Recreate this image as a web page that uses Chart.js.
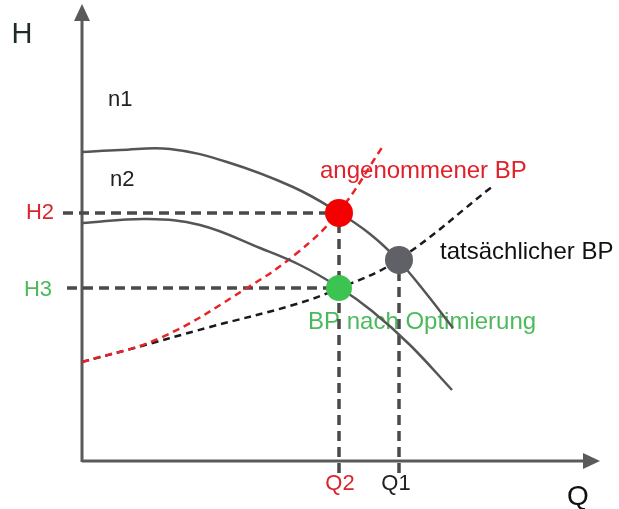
<!DOCTYPE html>
<html>
<head>
<meta charset="utf-8">
<script src="https://cdn.jsdelivr.net/npm/chart.js@4"></script>
<style>
  html, body { margin: 0; padding: 0; background: #fff; }
  #wrap { width: 619px; height: 509px; position: relative; }
</style>
</head>
<body>
<div id="wrap"><canvas id="pumpChart"></canvas></div>
<script>
// pump curves (Q, H) in arbitrary units
const qN1 = [0, 7.6, 17.6, 29, 42.2, 51.2, 57.6, 63.2, 68.6, 74.2];
const hN1 = [61.8, 62.2, 62.4, 59.8, 54.8, 49.8, 45.4, 40.2, 33.8, 26.6];

const qN2 = [0, 13, 23.6, 35.6, 43.6, 51.6, 58, 65.6, 74];
const hN2 = [47.6, 48.4, 47.2, 42.6, 39.2, 34.6, 30, 23.2, 14.2];

// system curves
const qSysAssumed = [0, 15.6, 33, 43, 51.2, 60.2];
const hSysAssumed = [19.8, 24.6, 34.6, 41.6, 49.6, 63];

const qSysReal = [0, 9, 25.6, 42.2, 51.6, 63.2, 82.2];
const hSysReal = [19.8, 22.2, 26.8, 31.2, 34.6, 40.2, 55];

// operating points
const Q2 = 51.4, Q1 = 63.4;
const H2 = 49.6, H3 = 34.6, H1 = 40.2;
const qMin = -16.4, qMax = 107.4, hMin = -9.6, hMax = 92.2;

function toPoints(qs, hs) {
    return qs.map((q, i) => ({ x: q, y: hs[i] }));
}

const font = '"Liberation Sans", Arial, sans-serif';

const decorPlugin = {
    id: 'decor',
    beforeDatasetsDraw(chart) {
        const ctx = chart.ctx;
        const x = v => chart.scales.x.getPixelForValue(v);
        const y = v => chart.scales.y.getPixelForValue(v);
        ctx.save();

        // axes with arrows
        ctx.strokeStyle = '#5a5a5a';
        ctx.fillStyle = '#5a5a5a';
        ctx.lineWidth = 3;
        ctx.beginPath();
        ctx.moveTo(x(0), y(-0.2));
        ctx.lineTo(x(0), y(88));
        ctx.moveTo(x(0), y(0));
        ctx.lineTo(x(100.5), y(0));
        ctx.stroke();
        ctx.beginPath();
        ctx.moveTo(x(0), y(91.4));
        ctx.lineTo(x(0) - 8, y(91.4) + 17);
        ctx.lineTo(x(0) + 8, y(91.4) + 17);
        ctx.closePath();
        ctx.fill();
        ctx.beginPath();
        ctx.moveTo(x(103.6), y(0));
        ctx.lineTo(x(103.6) - 17, y(0) - 8);
        ctx.lineTo(x(103.6) - 17, y(0) + 8);
        ctx.closePath();
        ctx.fill();

        // texts
        ctx.textBaseline = 'middle';
        function txt(s, px, py, size, color, align) {
            ctx.font = size + 'px ' + font;
            ctx.fillStyle = color;
            ctx.textAlign = align || 'left';
            ctx.fillText(s, px, py);
        }
        txt('H', 22, 35, 29, '#1e2b2b', 'center');
        txt('n1', 108, 100, 22, '#222', 'left');
        txt('n2', 110, 180, 22, '#222', 'left');
        txt('H2', 54, y(H2), 22, '#d9262c', 'right');
        txt('H3', 52, y(H3) + 2, 22, '#4db85a', 'right');
        txt('angenommener BP', 320, 171, 24, '#e0202a', 'left');
        txt('tatsächlicher BP', 440, 252, 24, '#111', 'left');
        txt('BP nach Optimierung', 308, 322, 24, '#4cba5c', 'left');
        txt('Q2', x(Q2) + 1, 484, 22, '#d9262c', 'center');
        txt('Q1', x(Q1) - 3, 484, 22, '#222', 'center');
        txt('Q', 578, 497, 28, '#111', 'center');
        ctx.restore();
    }
};

const refStyle = {
    borderColor: '#4a4a4a', borderWidth: 3.5, borderDash: [10, 6],
    pointRadius: 0, showLine: true, fill: false, order: 3
};

new Chart(document.getElementById('pumpChart'), {
    type: 'scatter',
    data: {
        datasets: [
            { label: 'H2', data: toPoints([-3.8, Q2], [H2, H2]), ...refStyle },
            { label: 'H3', data: toPoints([-3, Q2], [H3, H3]), ...refStyle },
            { label: 'Q2', data: toPoints([Q2, Q2], [-2.4, H2]), ...refStyle },
            { label: 'Q1', data: toPoints([Q1, Q1], [-2.4, H1]), ...refStyle },
            {
                label: 'n1', data: toPoints(qN1, hN1), showLine: true, pointRadius: 0,
                borderColor: '#555', borderWidth: 2.5, tension: 0.4, order: 2
            },
            {
                label: 'n2', data: toPoints(qN2, hN2), showLine: true, pointRadius: 0,
                borderColor: '#555', borderWidth: 2.5, tension: 0.4, order: 2
            },
            {
                label: 'Anlage angenommen', data: toPoints(qSysAssumed, hSysAssumed), showLine: true, pointRadius: 0,
                borderColor: '#e8232a', borderWidth: 2.5, borderDash: [7, 5], tension: 0.4, order: 2
            },
            {
                label: 'Anlage real', data: toPoints(qSysReal, hSysReal), showLine: true, pointRadius: 0,
                borderColor: '#1a1a1a', borderWidth: 2.5, borderDash: [7, 5], tension: 0.4, order: 2
            },
            {
                label: 'BP', data: toPoints([Q2, Q1, Q2], [H2, H1, H3]), showLine: false,
                pointRadius: [14, 14, 13], pointHoverRadius: [14, 14, 13],
                pointBackgroundColor: ['#f50000', '#5f6166', '#3cc452'],
                pointBorderWidth: 0, order: 1
            }
        ]
    },
    options: {
        responsive: true,
        maintainAspectRatio: false,
        animation: false,
        layout: { padding: 0, autoPadding: false },
        plugins: { legend: { display: false }, tooltip: { enabled: false } },
        scales: {
            x: { type: 'linear', min: qMin, max: qMax, display: false },
            y: { type: 'linear', min: hMin, max: hMax, display: false }
        }
    },
    plugins: [decorPlugin]
});
</script>
</body>
</html>
